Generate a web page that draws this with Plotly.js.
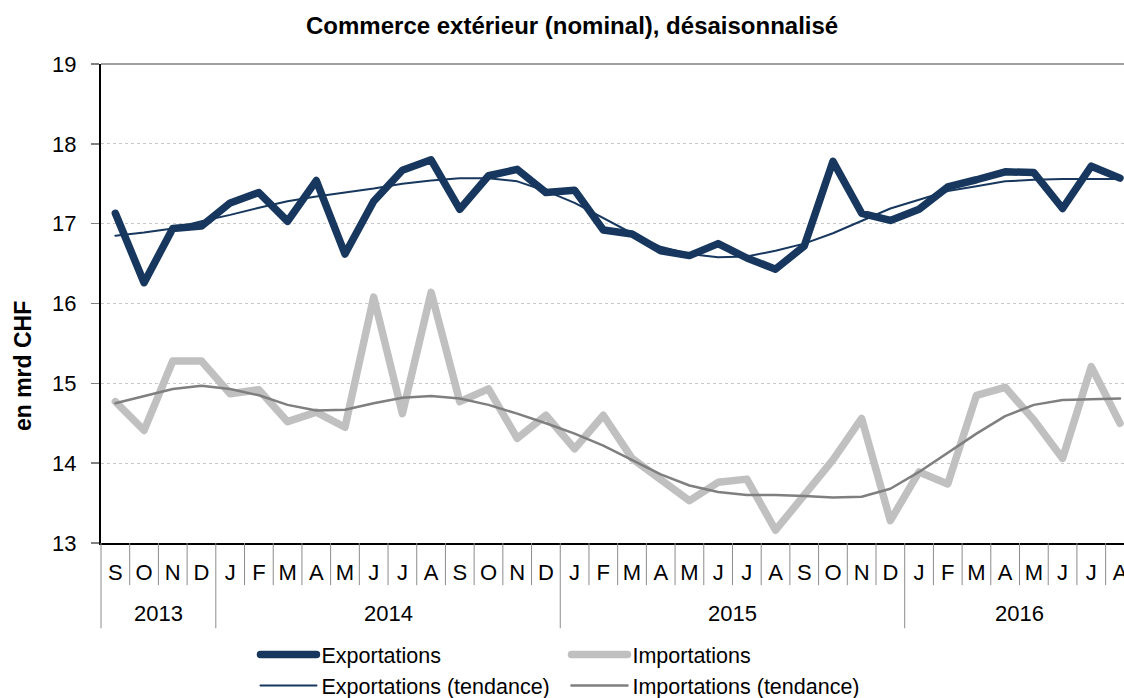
<!DOCTYPE html>
<html>
<head>
<meta charset="utf-8">
<script src="https://cdn.plot.ly/plotly-3.0.1.min.js"></script>
<style>
  html, body { margin: 0; padding: 0; background: #fff; }
  #chart { width: 1124px; height: 698px; }
  .js-line { stroke-linejoin: round; stroke-linecap: round; }
</style>
</head>
<body>
<div id="chart"></div>
<script>
// Months Sep 2013 .. Aug 2016
const months = ['S','O','N','D','J','F','M','A','M','J','J','A','S','O','N','D','J','F','M','A','M','J','J','A','S','O','N','D','J','F','M','A','M','J','J','A'];
const years = ['2013','2014','2015','2016'];
const yearStart = [0, 4, 16, 28];
const yearEnd = [3, 15, 27, 35];

const exportations = [17.13,16.26,16.94,16.97,17.26,17.39,17.03,17.54,16.62,17.28,17.67,17.80,
                      17.18,17.60,17.68,17.39,17.42,16.92,16.87,16.66,16.60,16.75,16.57,16.43,
                      16.72,17.78,17.13,17.04,17.18,17.46,17.55,17.65,17.64,17.19,17.72,17.57];
const exportationsTendance = [16.85,16.89,16.94,17.03,17.11,17.20,17.28,17.34,17.39,17.44,17.50,17.54,
                              17.57,17.57,17.53,17.41,17.26,17.07,16.88,16.71,16.62,16.58,16.59,16.66,
                              16.75,16.88,17.04,17.19,17.30,17.41,17.47,17.53,17.55,17.56,17.56,17.56];
const importations = [14.77,14.41,15.28,15.28,14.87,14.92,14.52,14.64,14.45,16.08,14.62,16.14,
                      14.77,14.93,14.31,14.60,14.18,14.60,14.06,13.80,13.53,13.76,13.80,13.16,
                      13.61,14.04,14.56,13.28,13.89,13.74,14.85,14.95,14.54,14.06,15.21,14.50];
const importationsTendance = [14.75,14.84,14.93,14.97,14.93,14.85,14.73,14.66,14.67,14.75,14.82,14.84,
                              14.81,14.73,14.62,14.50,14.37,14.22,14.04,13.86,13.72,13.64,13.60,13.60,
                              13.59,13.57,13.58,13.68,13.89,14.13,14.37,14.59,14.73,14.79,14.80,14.81];
const yTicks = [13,14,15,16,17,18,19];

const idx = months.map((m, i) => i);
const FONT = 'Liberation Sans, Arial, Helvetica, sans-serif';
const NAVY = '#17375E';
const LGREY = '#C0C0C0';
const DGREY = '#7F7F7F';

const traces = [
  {x: idx, y: importations, name: 'Importations', mode: 'lines', legend: 'legend2', legendgroup: 'g3',
   line: {color: LGREY, width: 7.5}},
  {x: idx, y: exportations, name: 'Exportations', mode: 'lines', legend: 'legend', legendgroup: 'g1',
   line: {color: NAVY, width: 7.5}},
  {x: idx, y: importationsTendance, name: 'Importations (tendance)', mode: 'lines', legend: 'legend2', legendgroup: 'g4',
   line: {color: DGREY, width: 2.5}},
  {x: idx, y: exportationsTendance, name: 'Exportations (tendance)', mode: 'lines', legend: 'legend', legendgroup: 'g2',
   line: {color: NAVY, width: 2}}
];

const shapes = [];
// top border
shapes.push({type: 'line', xref: 'paper', yref: 'paper', x0: 0, x1: 1, y0: 1, y1: 1,
             line: {color: '#A0A0A0', width: 2}});
// month separators
for (let i = 0; i < months.length - 1; i++) {
  const isYear = yearStart.indexOf(i + 1) >= 0;
  shapes.push({type: 'line', xref: 'x', yref: 'paper', x0: i + 0.5, x1: i + 0.5,
               y0: 0, y1: isYear ? -0.178 : -0.088,
               line: {color: '#8C8C8C', width: 1}});
}
// left edge of category axis
shapes.push({type: 'line', xref: 'paper', yref: 'paper', x0: 0, x1: 0, y0: 0, y1: -0.178,
             line: {color: '#8C8C8C', width: 1}});

const annotations = years.map((yr, k) => ({
  text: yr, xref: 'x', yref: 'paper', x: (yearStart[k] + yearEnd[k]) / 2, y: -0.148,
  xanchor: 'center', yanchor: 'middle', showarrow: false,
  font: {family: FONT, size: 22, color: '#000'}
}));
// y-axis title (placed low, as in the source)
annotations.push({
  text: 'en mrd CHF', textangle: -90, xref: 'paper', yref: 'paper', x: -0.0762, y: 0.3695,
  xanchor: 'center', yanchor: 'middle', showarrow: false,
  font: {family: FONT, size: 23, weight: 'bold', color: '#000'}
});

const legendCommon = {
  orientation: 'v', yanchor: 'top', xanchor: 'left', y: -0.19,
  font: {family: FONT, size: 21.5, color: '#000'}, itemwidth: 56,
  bgcolor: 'rgba(0,0,0,0)', tracegroupgap: 0, traceorder: 'grouped'
};

const layout = {
  width: 1124, height: 698,
  margin: {l: 101, r: 0, t: 64, b: 155, autoexpand: false},
  paper_bgcolor: '#fff', plot_bgcolor: '#fff',
  font: {family: FONT, color: '#000'},
  title: {text: 'Commerce extérieur (nominal), désaisonnalisé',
          font: {family: FONT, size: 24, weight: 'bold', color: '#000'},
          x: 0.509, xanchor: 'center', y: 0.964, yanchor: 'middle'},
  showlegend: true,
  legend: Object.assign({}, legendCommon, {x: 0.151}),
  legend2: Object.assign({}, legendCommon, {x: 0.455}),
  xaxis: {
    range: [-0.5, 35.14], tickvals: idx, ticktext: months, ticks: '',
    showline: true, linecolor: '#000', linewidth: 2, showgrid: false, zeroline: false,
    tickfont: {family: FONT, size: 22, color: '#000'}, ticklabelstandoff: 9,
    ticklabeloverflow: 'allow', fixedrange: true
  },
  yaxis: {
    range: [13, 19], tickvals: yTicks, ticks: 'outside', ticklen: 8, tickwidth: 1.5,
    tickcolor: '#808080', showline: true, linecolor: '#000', linewidth: 2,
    showgrid: true, gridcolor: '#C8C8C8', griddash: 'dot', gridwidth: 1, zeroline: false,
    tickfont: {family: FONT, size: 22, color: '#000'}, ticklabelstandoff: 10,
    automargin: false, fixedrange: true
  },
  shapes: shapes,
  annotations: annotations
};

Plotly.newPlot('chart', traces, layout, {displayModeBar: false, staticPlot: true});
</script>
</body>
</html>
